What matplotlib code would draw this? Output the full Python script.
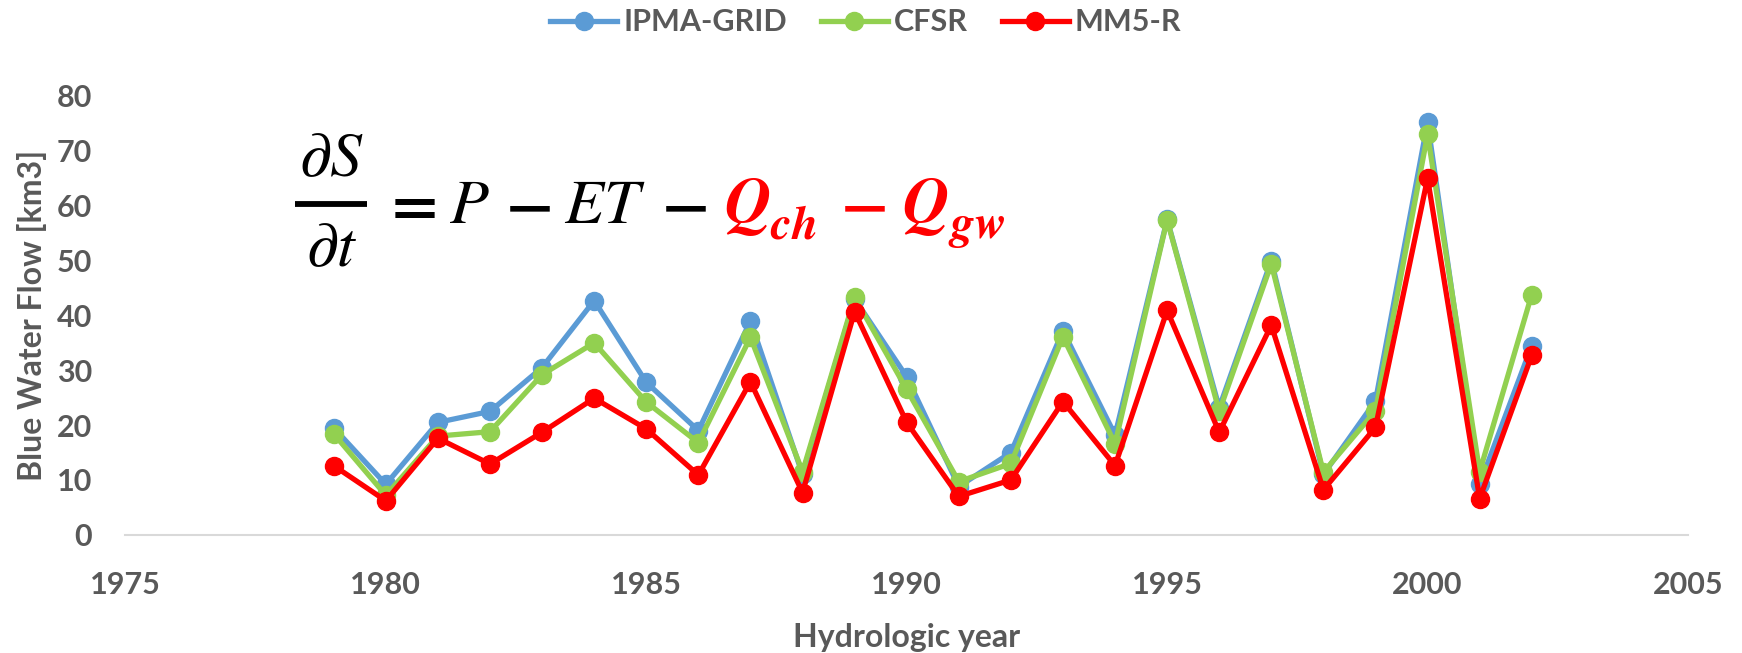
import matplotlib
matplotlib.use('Agg')
import matplotlib.pyplot as plt
from matplotlib.lines import Line2D
from matplotlib.ticker import MultipleLocator

plt.rcParams['font.family'] = ['Lato', 'DejaVu Sans']
plt.rcParams['mathtext.fontset'] = 'stix'

# hydrologic years and blue water flow [km3] per data source
years = list(range(1979, 2003))
ipma_grid = [19.5, 9.2, 20.5, 22.5, 30.5, 42.7, 27.8, 19.0, 39.0, 11.0, 43.0, 28.8,
             8.8, 15.0, 37.2, 18.2, 57.5, 23.2, 50.0, 11.0, 24.4, 75.2, 9.2, 34.5]
cfsr = [18.4, 7.2, 18.0, 18.8, 29.2, 35.0, 24.2, 16.8, 36.0, 11.5, 43.3, 26.5,
        9.7, 13.0, 36.1, 16.6, 57.4, 22.5, 49.4, 11.4, 22.6, 73.0, 11.5, 43.8]
mm5_r = [12.6, 6.2, 17.6, 12.9, 18.7, 24.9, 19.3, 10.9, 27.9, 7.7, 40.7, 20.5,
         7.0, 10.0, 24.3, 12.6, 40.9, 18.7, 38.2, 8.2, 19.6, 65.0, 6.6, 32.7]

series_names = ['IPMA-GRID', 'CFSR', 'MM5-R']
series_colors = ['#5B9BD5', '#92D050', '#FF0000']
text_gray = '#595959'

W, H = 1742, 653
fig = plt.figure(figsize=(W / 100, H / 100), dpi=100)
ax = fig.add_axes([0.072, 0.181, 0.897, 0.672])

for vals, name, col in zip([ipma_grid, cfsr, mm5_r], series_names, series_colors):
    ax.plot(years, vals, color=col, lw=3.8, marker='o', ms=13, label=name,
            solid_joinstyle='round', clip_on=False)

ax.set_xlim(1975, 2005)
ax.set_ylim(0, 80)
ax.xaxis.set_major_locator(MultipleLocator(5))
ax.yaxis.set_major_locator(MultipleLocator(10))
ax.tick_params(length=0, labelsize=22, labelcolor=text_gray)
ax.tick_params(axis='y', pad=24)
ax.tick_params(axis='x', pad=26)
for lbl in ax.get_xticklabels() + ax.get_yticklabels():
    lbl.set_fontweight('bold')

for side in ['top', 'right', 'left']:
    ax.spines[side].set_visible(False)
ax.spines['bottom'].set_color('#D9D9D9')
ax.spines['bottom'].set_linewidth(1.5)

ax.set_xlabel('Hydrologic year', fontsize=23, fontweight='bold', color=text_gray)
ax.xaxis.label.set_va('center')
ax.xaxis.set_label_coords(0.5, -0.235)
ax.set_ylabel('Blue Water Flow [km3]', fontsize=23, fontweight='bold', color=text_gray)
ax.yaxis.label.set_va('center')
ax.yaxis.set_label_coords(-0.060, 0.5)


# water balance equation, laid out in image pixels (y from the top)
def put(x, y, s, color='black', size=46, ha='center'):
    fig.text(x / W, 1 - y / H, s, fontsize=size, color=color, ha=ha, va='baseline')


red = '#FF0000'
put(331, 176, r'$\partial S$')
put(331, 266, r'$\partial t$')
fig.add_artist(Line2D([295 / W, 367 / W], [1 - 204 / H] * 2, transform=fig.transFigure,
                      color='black', lw=4.2, solid_capstyle='butt'))
put(408, 223, r'$\mathbf{=}$')
put(469, 223, r'$P$')
put(528, 223, r'$\mathbf{-}$')
put(605, 223, r'$ET$')
put(684, 223, r'$\mathbf{-}$')
put(724, 223, r'$\mathbfit{Q}$', color=red, ha='left')
put(770, 238, r'$\mathbfit{ch}$', color=red, size=34, ha='left')
put(863, 223, r'$\mathbf{-}$', color=red)
put(902, 223, r'$\mathbfit{Q}$', color=red, ha='left')
put(948, 238, r'$\mathbfit{gw}$', color=red, size=34, ha='left')

fig.legend(loc='center', bbox_to_anchor=(0.497, 0.966), ncol=3, frameon=False,
           prop={'weight': 'bold', 'size': 22}, labelcolor=text_gray,
           handlelength=2.2, handletextpad=0.2, columnspacing=1.1)

fig.savefig('out.png', dpi=100)
